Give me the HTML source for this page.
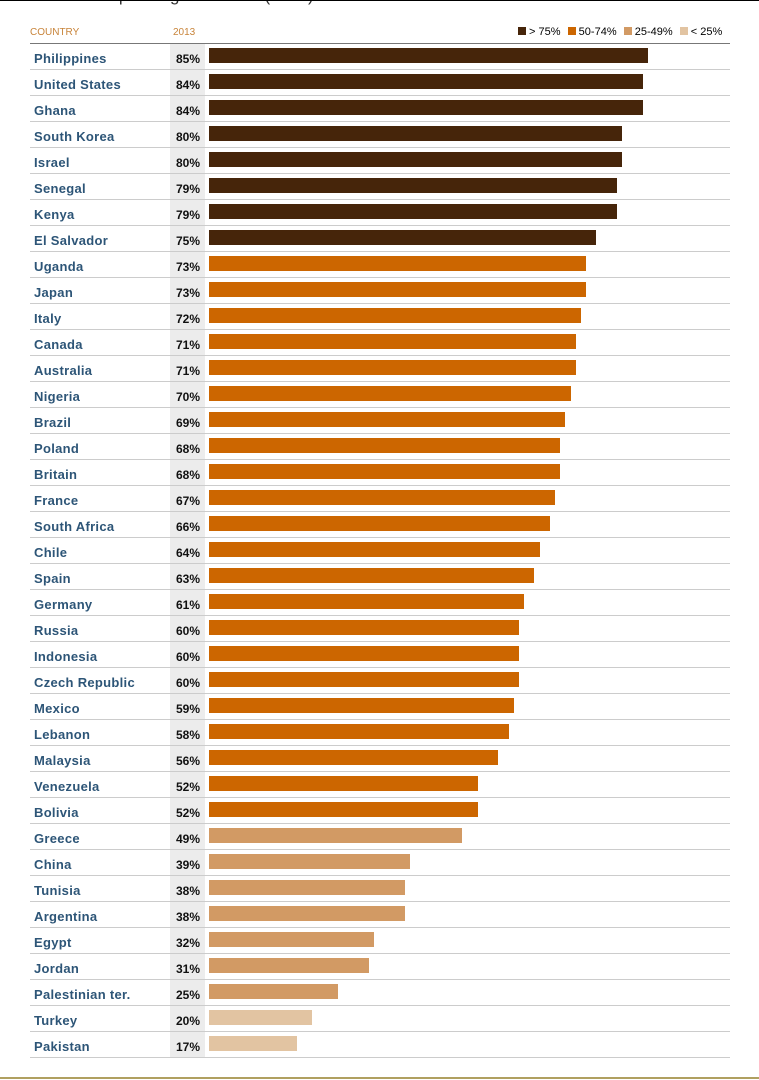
<!DOCTYPE html>
<html><head><meta charset="utf-8"><style>
body{margin:0;width:759px;height:1080px;background:#fff;position:relative;overflow:hidden;font-family:"Liberation Sans",Arial,sans-serif}
.abs{position:absolute}
</style></head><body>
<div class="abs" style="left:32px;top:-14px;font-size:17px;color:#333;white-space:nowrap">Percent responding Favorable (2013)</div>
<div class="abs" style="left:0;top:0;width:759px;height:1px;background:#000"></div>
<div class="abs" style="left:30px;top:27px;font-size:10px;color:#c8843a">COUNTRY</div>
<div class="abs" style="left:173px;top:27px;font-size:10px;color:#c8843a">2013</div>
<div class="abs" style="left:518px;top:26px;font-size:11px;color:#000;white-space:nowrap">
<span><span style="display:inline-block;width:8px;height:8px;background:#46250a"></span> &gt; 75%</span>
<span style="margin-left:4px"><span style="display:inline-block;width:8px;height:8px;background:#cc6600"></span> 50-74%</span>
<span style="margin-left:4px"><span style="display:inline-block;width:8px;height:8px;background:#d29a64"></span> 25-49%</span>
<span style="margin-left:4px"><span style="display:inline-block;width:8px;height:8px;background:#e2c4a2"></span> &lt; 25%</span>
</div>
<div class="abs" style="left:170px;top:44px;width:35px;height:1013px;background:#ececec"></div>
<div class="abs" style="left:30px;top:43px;width:700px;height:1px;background:#777"></div>
<div id="rows"></div>
<div class="abs" style="left:0;top:1077px;width:759px;height:2px;background:#b0a060"></div>
<script>
const countries=["Philippines","United States","Ghana","South Korea","Israel","Senegal","Kenya","El Salvador","Uganda","Japan","Italy","Canada","Australia","Nigeria","Brazil","Poland","Britain","France","South Africa","Chile","Spain","Germany","Russia","Indonesia","Czech Republic","Mexico","Lebanon","Malaysia","Venezuela","Bolivia","Greece","China","Tunisia","Argentina","Egypt","Jordan","Palestinian ter.","Turkey","Pakistan"];
const values=[85,84,84,80,80,79,79,75,73,73,72,71,71,70,69,68,68,67,66,64,63,61,60,60,60,59,58,56,52,52,49,39,38,38,32,31,25,20,17];
const x0=209, scale=439/85, top0=44, rowH=26;
function color(v){return v>=75?"#46250a":v>=50?"#cc6600":v>=25?"#d29a64":"#e2c4a2";}
const root=document.getElementById('rows');
countries.forEach((c,i)=>{
  const y=top0+i*rowH, v=values[i];
  const name=document.createElement('div');
  name.className='abs';
  
  
  name.style.cssText=`left:34px;top:${y+7}px;font-size:13px;font-weight:bold;color:#2d5577;letter-spacing:0.3px`;
  name.textContent=c;root.appendChild(name);
  const val=document.createElement('div');
  val.className='abs';
  
  
  val.style.cssText=`left:170px;width:30px;text-align:right;top:${y+8}px;font-size:12px;font-weight:bold;color:#111`;
  val.textContent=v+'%';root.appendChild(val);
  const bar=document.createElement('div');
  bar.className='abs';
  
  
  bar.style.cssText=`left:${x0}px;top:${y+4}px;height:15px;width:${Math.round(v*scale)}px;background:${color(v)}`;
  root.appendChild(bar);
  const line=document.createElement('div');
  line.className='abs';
  
  
  line.style.cssText=`left:30px;top:${y+rowH-1}px;width:700px;height:1px;background:#ccc`;
  root.appendChild(line);
});
</script>
</body></html>
